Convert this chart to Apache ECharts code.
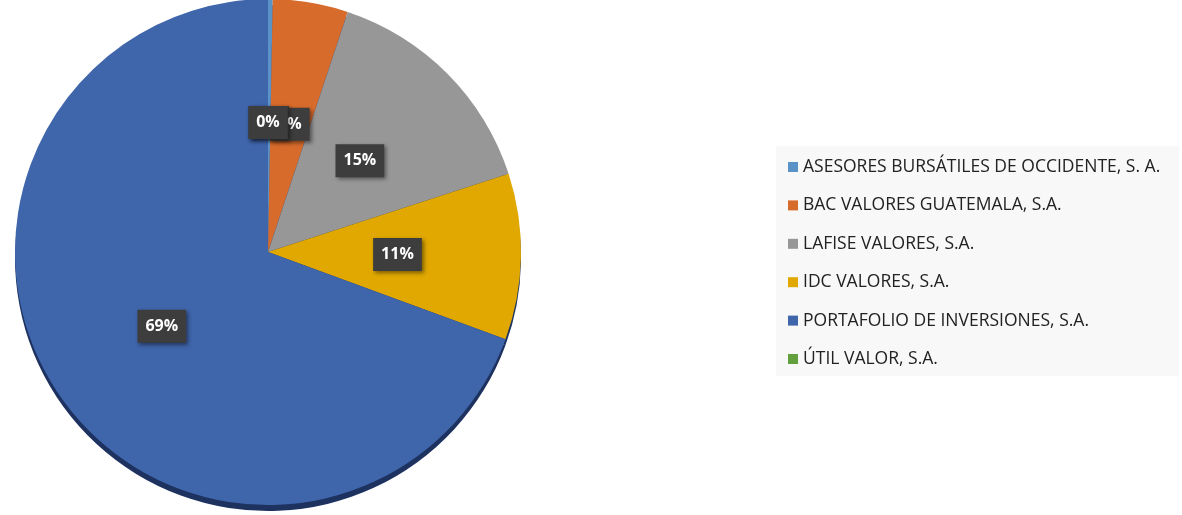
<!DOCTYPE html>
<html>
<head>
<meta charset="utf-8">
<script src="https://cdn.jsdelivr.net/npm/echarts@6/dist/echarts.min.js"></script>
<style>
html,body{margin:0;padding:0;background:#fff;}
#chart{width:1182px;height:515px;}
</style>
</head>
<body>
<div id="chart"></div>
<script>
const categories = [
  'ASESORES BURSÁTILES DE OCCIDENTE, S. A.',
  'BAC VALORES GUATEMALA, S.A.',
  'LAFISE VALORES, S.A.',
  'IDC VALORES, S.A.',
  'PORTAFOLIO DE INVERSIONES, S.A.',
  'ÚTIL VALOR, S.A.'
];
const shares = [0.3, 4.8, 14.9, 10.6, 69.4, 0.0];
const colors = ['#5B93C9', '#D76B2C', '#979797', '#E0A800', '#3F65AB', '#62A03E'];

const chart = echarts.init(document.getElementById('chart'), null, {renderer: 'canvas'});
const pieData = categories.map((n, i) => ({name: n, value: shares[i], itemStyle: {color: colors[i]}}));
const shadowData = categories.map((n, i) => ({name: '_s' + i, value: shares[i]}));

chart.setOption({
  animation: false,
  legend: {
    orient: 'vertical',
    left: 776,
    top: 146,
    backgroundColor: '#f8f8f8',
    padding: [11, 19, 7, 12],
    itemGap: 18.4,
    itemWidth: 10,
    itemHeight: 10,
    icon: 'rect',
    data: categories,
    textStyle: {fontFamily: 'Open Sans', fontSize: 17.5, color: '#222222', lineHeight: 20}
  },
  series: [
    {
      type: 'pie',
      center: [268, 252],
      radius: [0, 253],
      startAngle: 90,
      clockwise: true,
      minShowLabelAngle: 0,
      avoidLabelOverlap: false,
      labelLayout: {hideOverlap: false},
      itemStyle: {borderWidth: 0},
      label: {
        show: true,
        position: 'inside',
        formatter: p => Math.round(p.value) + '%',
        fontFamily: 'Open Sans',
        fontWeight: 'bold',
        fontSize: 16,
        color: '#ffffff',
        backgroundColor: '#3d3d3d',
        padding: [9, 8, 8, 8],
        shadowColor: 'rgba(0,0,0,0.45)',
        shadowBlur: 4,
        shadowOffsetX: 2,
        shadowOffsetY: 2
      },
      labelLine: {show: false},
      data: pieData,
      z: 2
    },
    {
      type: 'pie',
      silent: true,
      center: [268, 258],
      radius: [0, 253],
      startAngle: 90,
      clockwise: true,
      label: {show: false},
      labelLine: {show: false},
      itemStyle: {color: '#1e3260', borderWidth: 0},
      data: shadowData,
      z: 1
    }
  ]
});
</script>
</body>
</html>
